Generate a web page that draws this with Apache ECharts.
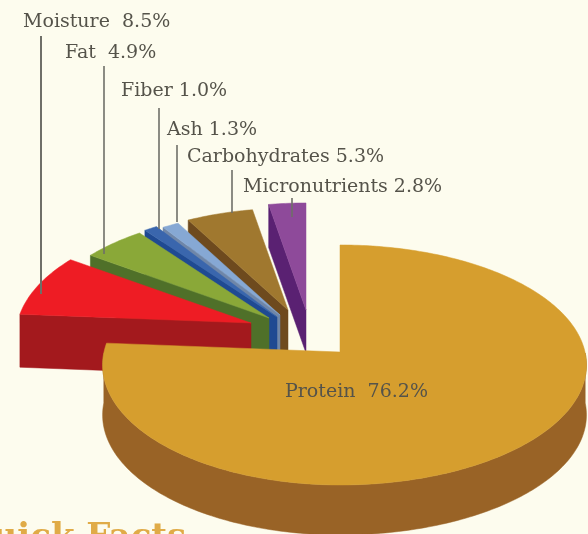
<!DOCTYPE html>
<html><head><meta charset="utf-8">
<style>html,body{margin:0;padding:0;background:#fdfcee}#c{width:588px;height:534px}</style>
<script src="https://cdn.jsdelivr.net/npm/echarts@6/dist/echarts.min.js"></script>
</head><body><div id="c"></div>
<script>
// data
const names = ['Protein','Moisture','Fat','Fiber','Ash','Carbohydrates','Micronutrients'];
const values = [76.2,8.5,4.9,1.0,1.3,5.3,2.8];
const labelText = ['Protein  76.2%','Moisture  8.5%','Fat  4.9%','Fiber 1.0%','Ash 1.3%','Carbohydrates 5.3%','Micronutrients 2.8%'];
// styles
const topColors = ['#d69e2e','#ee1c24','#8aa838','#3a66ad','#86a8d4','#a0782f','#8e4a9a'];
const wallColors = ['#996326','#a3191d','#4f7029','#1f4a92','#6f86a8','#6e4a1e','#5a2172'];
// layout: projected apex of every exploded slice, slice scale, label anchor, leader line
const apexX = [340,251,269,277,280,288,306];
const apexY = [352,323,318,317,315,310,310];
const scales = [1,0.99,0.98,1,0.97,0.95,1];
const labelX = [285,23,65,121,167,187,243];
const labelY = [392,22,53,91,130,157,187];
const leaderX = [null,41,104,159,177,232,292];
const leaderTop = [null,36,66,108,145,170,198];
const leaderEnd = [null,294,254,229,222,213,217];
const depths = [50,53,53,53,53,53,43];
const P = {kL:236,kR:245,h:118.6,p:0.108,font:'"DejaVu Serif"'};
const total = values.reduce((a,b)=>a+b,0);

function pt(t,i){
  const u=Math.sin(t),v=Math.cos(t),w=1+P.p*v,k=(u<0?P.kL:P.kR)*scales[i];
  return [apexX[i]+k*u/w, apexY[i]-P.h*scales[i]*v/w];
}
function renderItem(params,api){
  const i=params.dataIndex;
  let acc=0; for(let j=0;j<i;j++) acc+=values[j];
  const a0=acc/total*2*Math.PI, a1=(acc+api.value(0))/total*2*Math.PI;
  const arc=[]; const n=Math.max(6,Math.ceil((a1-a0)*60));
  for(let s=0;s<=n;s++) arc.push(pt(a0+(a1-a0)*s/n,i));
  const apex=[apexX[i],apexY[i]];
  const d=depths[i], base=i===0?50:(names.length-i)*3;
  const ch=[];
  const poly=(pts,fill,z)=>ch.push({type:'polygon',shape:{points:pts},z2:z,style:{fill,stroke:fill,lineWidth:0.5}});
  const dn=p=>[p[0],p[1]+d];
  if(i===0){
    const wall=[];
    for(let s=0;s<=n;s++){const t=a0+(a1-a0)*s/n; if(t>Math.PI*0.5&&t<Math.PI*1.5) wall.push(arc[s]);}
    poly(wall.concat(wall.slice().reverse().map(dn)),wallColors[i],base);
  } else {
    const a=arc[0];
    poly([a,apex,dn(apex),dn(a)],wallColors[i],base);
  }
  poly([apex].concat(arc),topColors[i],base+1);
  if(i>0) ch.push({type:'line',shape:{x1:leaderX[i],y1:leaderTop[i],x2:leaderX[i],y2:leaderEnd[i]},z2:90,style:{stroke:'#6f6f68',lineWidth:i===1?2:1.6}});
  ch.push({type:'text',x:labelX[i],y:labelY[i],z2:95,style:{text:labelText[i],fill:'#55534a',font:'19px '+P.font,verticalAlign:'middle'}});
  return {type:'group',children:ch};
}
const chart=echarts.init(document.getElementById('c'),null,{renderer:'canvas'});
chart.setOption({
  backgroundColor:'#fdfcee',animation:false,
  graphic:[{type:'text',left:-37,top:521,z:1,style:{text:'Quick Facts',fill:'#e0ab47',font:'bold 34px "DejaVu Serif"'}}],
  series:[{type:'custom',coordinateSystem:'none',clip:false,silent:true,renderItem,
    data:names.map((n,i)=>({name:n,value:[values[i]]}))}]
});
</script></body></html>
